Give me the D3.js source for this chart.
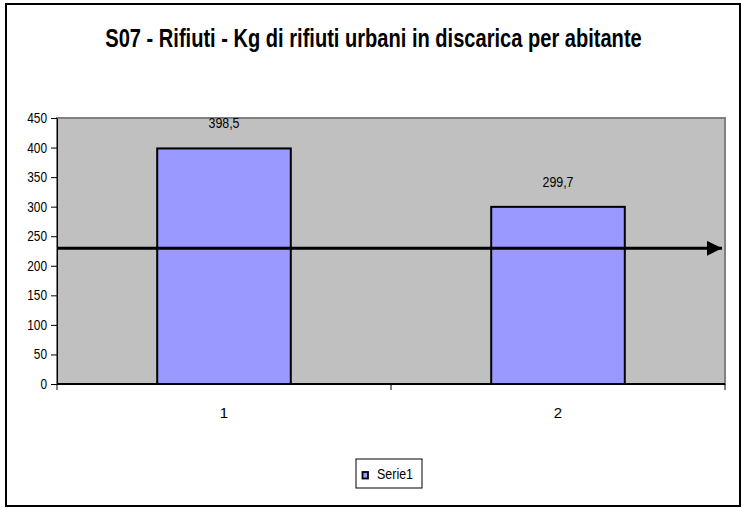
<!DOCTYPE html>
<html>
<head>
<meta charset="utf-8">
<script src="https://cdn.jsdelivr.net/npm/d3@7"></script>
<style>
  body { margin: 0; background: #fff; }
  text { font-family: "Liberation Sans Narrow", "Arial Narrow", "Liberation Sans", Arial, sans-serif; }
</style>
</head>
<body>
<script>
// chart data
var categories = ["1", "2"];
var values = [398.5, 299.7];
var labels = ["398,5", "299,7"];
var yTicks = [0, 50, 100, 150, 200, 250, 300, 350, 400, 450];
var referenceValue = 229.5;
var seriesName = "Serie1";
var title = "S07 - Rifiuti - Kg di rifiuti urbani in discarica per abitante";

var W = 742, H = 508;
var plot = {left: 57, top: 118, right: 725, bottom: 384};

// narrow look: squeeze text to about 80% width
function narrow(sel, perChar) {
  sel.each(function() {
    var t = d3.select(this);
    t.attr("textLength", t.text().length * perChar)
     .attr("lengthAdjust", "spacingAndGlyphs");
  });
}

var svg = d3.select("body").append("svg")
  .attr("width", W)
  .attr("height", H);

// outer frame
svg.append("rect")
  .attr("x", 6).attr("y", 4)
  .attr("width", 734).attr("height", 502)
  .attr("fill", "#fff")
  .attr("stroke", "#000")
  .attr("stroke-width", 2);

// title, squeezed horizontally to the reference width
var titleText = svg.append("text")
  .attr("x", 0).attr("y", 0)
  .attr("text-anchor", "middle")
  .attr("font-size", 25)
  .attr("font-weight", "bold")
  .text(title);
var tw = titleText.node().getComputedTextLength();
var sx = Math.min(1, 537 / tw);
titleText.attr("transform", "translate(373.5,47) scale(" + sx + ",1)");

// scales
var x = d3.scaleBand()
  .domain(categories)
  .range([plot.left, plot.right])
  .paddingInner(0.6)
  .paddingOuter(0.3);

var y = d3.scaleLinear()
  .domain([0, 450])
  .range([plot.bottom, plot.top]);

// plot area
svg.append("rect")
  .attr("x", plot.left).attr("y", plot.top)
  .attr("width", plot.right - plot.left)
  .attr("height", plot.bottom - plot.top)
  .attr("fill", "#c0c0c0")
  .attr("stroke", "#808080")
  .attr("stroke-width", 2);

// bars
svg.selectAll(".bar")
  .data(values)
  .enter().append("rect")
  .attr("class", "bar")
  .attr("x", function(d, i) { return x(categories[i]); })
  .attr("y", function(d) { return y(d); })
  .attr("width", x.bandwidth())
  .attr("height", function(d) { return y(0) - y(d); })
  .attr("fill", "#9999ff")
  .attr("stroke", "#000")
  .attr("stroke-width", 2);

// value labels
svg.selectAll(".vlabel")
  .data(values)
  .enter().append("text")
  .attr("class", "vlabel")
  .attr("x", function(d, i) { return x(categories[i]) + x.bandwidth() / 2; })
  .attr("y", function(d) { return y(d) - 20; })
  .attr("text-anchor", "middle")
  .attr("font-size", 14)
  .attr("fill", "#000")
  .text(function(d, i) { return labels[i]; })
  .call(narrow, 6.2);

// y axis
var yAxis = svg.append("g")
  .attr("transform", "translate(" + plot.left + ",0)")
  .call(d3.axisLeft(y).tickValues(yTicks).tickSize(6).tickSizeOuter(0));
yAxis.select(".domain").attr("stroke", "#000").attr("stroke-width", 1);
yAxis.selectAll("line").attr("stroke", "#000");
yAxis.selectAll("text")
  .attr("font-size", 14)
  .attr("fill", "#000")
  .attr("x", -10)
  .call(narrow, 6.6);

// x axis: ticks at category boundaries
var xAxis = svg.append("g")
  .attr("transform", "translate(0," + plot.bottom + ")");
xAxis.append("line")
  .attr("x1", plot.left).attr("x2", plot.right)
  .attr("stroke", "#000").attr("stroke-width", 2);
var bounds = [plot.left, plot.left + (plot.right - plot.left) / 2, plot.right];
xAxis.selectAll(".xt")
  .data(bounds)
  .enter().append("line")
  .attr("x1", function(d) { return d; })
  .attr("x2", function(d) { return d; })
  .attr("y1", 0).attr("y2", 6)
  .attr("stroke", "#000");
xAxis.selectAll(".xl")
  .data(categories)
  .enter().append("text")
  .attr("x", function(d) { return x(d) + x.bandwidth() / 2; })
  .attr("y", 34)
  .attr("text-anchor", "middle")
  .attr("font-size", 15)
  .text(function(d) { return d; });

// reference arrow
var defs = svg.append("defs");
defs.append("marker")
  .attr("id", "arrow")
  .attr("viewBox", "0 0 10 10")
  .attr("refX", 10).attr("refY", 5)
  .attr("markerWidth", 5.5).attr("markerHeight", 5)
  .attr("orient", "auto")
  .attr("markerUnits", "strokeWidth")
  .append("path")
  .attr("d", "M0,0 L10,5 L0,10 Z")
  .attr("fill", "#000");

svg.append("line")
  .attr("x1", plot.left)
  .attr("x2", 722)
  .attr("y1", y(referenceValue))
  .attr("y2", y(referenceValue))
  .attr("stroke", "#000")
  .attr("stroke-width", 3)
  .attr("marker-end", "url(#arrow)");

// legend
var legend = svg.append("g");
legend.append("rect")
  .attr("x", 356).attr("y", 459)
  .attr("width", 66).attr("height", 29)
  .attr("fill", "#fff")
  .attr("stroke", "#000")
  .attr("stroke-width", 1);
legend.append("rect")
  .attr("x", 362.5).attr("y", 472)
  .attr("width", 5.5).attr("height", 6.5)
  .attr("fill", "#9999ff")
  .attr("stroke", "#000")
  .attr("stroke-width", 1.8);
legend.append("text")
  .attr("x", 377).attr("y", 479)
  .attr("font-size", 14)
  .attr("textLength", 36)
  .attr("lengthAdjust", "spacingAndGlyphs")
  .text(seriesName);
</script>
</body>
</html>
